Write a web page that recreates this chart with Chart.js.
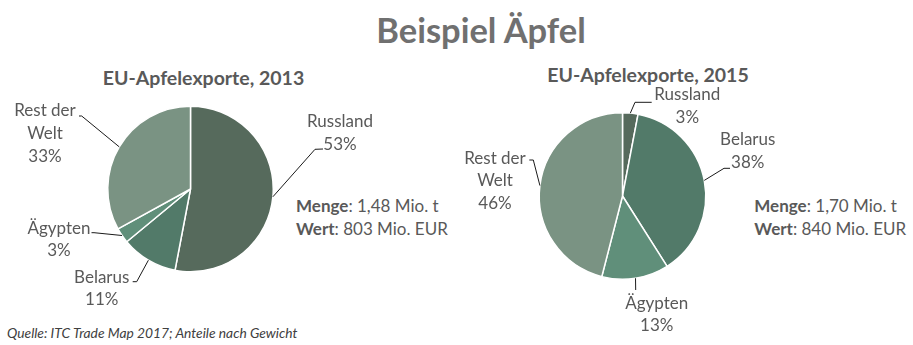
<!DOCTYPE html>
<html lang="de">
<head>
<meta charset="utf-8">
<script src="https://cdn.jsdelivr.net/npm/chart.js@4/dist/chart.umd.min.js"></script>
<style>
  html, body { margin: 0; padding: 0; background: #fff; }
  body { width: 913px; height: 345px; position: relative; overflow: hidden; font-family: Lato, "Open Sans", sans-serif; }
  canvas.pie { position: absolute; left: 0; top: 0; }
  .title { position: absolute; left: 0; width: 962px; top: 7px; text-align: center; font-size: 34.5px; font-weight: bold; color: #707070; line-height: 46px; }
  .sub { position: absolute; font-size: 19.5px; font-weight: bold; color: #595959; line-height: 26px; white-space: nowrap; transform: translateX(-50%); }
  .facts { position: absolute; font-size: 17px; color: #595959; line-height: 23px; white-space: nowrap; }
  .facts b { font-weight: bold; }
  .source { position: absolute; left: 7px; top: 323px; font-size: 13.8px; font-style: italic; color: #404040; white-space: nowrap; line-height: 19px; }
</style>
</head>
<body>
<div class="title">Beispiel Äpfel</div>
<div class="sub" id="sub0"></div>
<div class="sub" id="sub1"></div>
<div class="facts" id="facts0"></div>
<div class="facts" id="facts1"></div>
<div class="source">Quelle: ITC Trade Map 2017; Anteile nach Gewicht</div>
<canvas class="pie" id="pie2013" width="913" height="345"></canvas>
<canvas class="pie" id="pie2015" width="913" height="345"></canvas>
<script>
// Export destinations, shares of EU apple exports by weight (%)
const categories = ['Russland', 'Belarus', 'Ägypten', 'Rest der Welt'];
const labelLines = [['Russland'], ['Belarus'], ['Ägypten'], ['Rest der', 'Welt']];
const years = ['2013', '2015'];
const shares2013 = [53, 11, 3, 33];
const shares2015 = [3, 38, 13, 46];
const volumeMioT = ['1,48', '1,70'];
const valueMioEur = ['803', '840'];

const sliceColors = ['#566a5c', '#527a69', '#608f7a', '#7a9383'];

// Layout of each pie: plot-area padding and where its labels sit (offsets from the pie centre)
const layouts = [
  {
    padding: { left: 107, right: 639, top: 105.5, bottom: 72.5 },
    subtitle: { x: 203.5, y: 65 },
    facts: { x: 296, y: 194 },
    labels: [
      { elbow: [124.5, -39.7], end: [132.5, -40], text: [149.5, -67.3] },
      { elbow: [-53.8, 92.7], end: [-57.8, 92.7], text: [-88.8, 88.3] },
      { elbow: [-96.5, 43.7], end: [-99, 43.7], text: [-131.5, 39.3] },
      { elbow: [-108.8, -73], end: [-111.5, -73], text: [-145.5, -78.3] }
    ]
  },
  {
    padding: { left: 538.5, right: 206.5, top: 112, bottom: 65 },
    subtitle: { x: 648, y: 62 },
    facts: { x: 754.3, y: 194 },
    labels: [
      { elbow: [12.5, -93.7], end: [29.2, -93.7], text: [64.8, -101] },
      { elbow: [101.5, -27.7], end: [107.5, -27.7], text: [125.2, -56] },
      { elbow: [13.2, 94], end: [13.2, 94], text: [34.2, 107.3] },
      { elbow: [-89.2, -36], end: [-93.2, -36], text: [-127.5, -37.7] }
    ]
  }
];

// Draws leader lines from each slice's mid-arc point plus the category/percent label
const sliceLabels = {
  id: 'sliceLabels',
  afterDraw(chart, args, opts) {
    const ctx = chart.ctx;
    const meta = chart.getDatasetMeta(0);
    const data = chart.data.datasets[0].data;
    ctx.save();
    meta.data.forEach((arc, i) => {
      const p = arc.getProps(['x', 'y', 'startAngle', 'endAngle', 'outerRadius'], true);
      const mid = (p.startAngle + p.endAngle) / 2;
      const sx = p.x + Math.cos(mid) * p.outerRadius;
      const sy = p.y + Math.sin(mid) * p.outerRadius;
      const l = opts.labels[i];
      ctx.strokeStyle = '#1a1a1a';
      ctx.lineWidth = 1;
      ctx.beginPath();
      ctx.moveTo(sx, sy);
      ctx.lineTo(p.x + l.elbow[0], p.y + l.elbow[1]);
      ctx.lineTo(p.x + l.end[0], p.y + l.end[1]);
      ctx.stroke();
      ctx.fillStyle = '#595959';
      ctx.font = '17px Lato, "Open Sans", sans-serif';
      ctx.textAlign = 'center';
      ctx.textBaseline = 'middle';
      const lines = labelLines[i].concat([data[i] + '%']);
      lines.forEach((t, k) => {
        ctx.fillText(t, p.x + l.text[0], p.y + l.text[1] + k * 22.7);
      });
    });
    ctx.restore();
  }
};

function makePie(canvasId, shares, layout) {
  return new Chart(document.getElementById(canvasId), {
    type: 'pie',
    data: {
      labels: categories,
      datasets: [{
        data: shares,
        backgroundColor: sliceColors,
        borderColor: '#ffffff',
        borderWidth: 1.5
      }]
    },
    options: {
      responsive: false,
      animation: false,
      events: [],
      layout: { padding: layout.padding },
      plugins: {
        legend: { display: false },
        tooltip: { enabled: false },
        title: { display: false },
        sliceLabels: { labels: layout.labels }
      }
    },
    plugins: [sliceLabels]
  });
}

makePie('pie2013', shares2013, layouts[0]);
makePie('pie2015', shares2015, layouts[1]);

years.forEach((y, i) => {
  const sub = document.getElementById('sub' + i);
  sub.textContent = 'EU-Apfelexporte, ' + y;
  sub.style.left = layouts[i].subtitle.x + 'px';
  sub.style.top = layouts[i].subtitle.y + 'px';
  const f = document.getElementById('facts' + i);
  f.innerHTML = '<b>Menge</b>: ' + volumeMioT[i] + ' Mio. t<br><b>Wert</b>: ' + valueMioEur[i] + ' Mio. EUR';
  f.style.left = layouts[i].facts.x + 'px';
  f.style.top = layouts[i].facts.y + 'px';
});
</script>
</body>
</html>
